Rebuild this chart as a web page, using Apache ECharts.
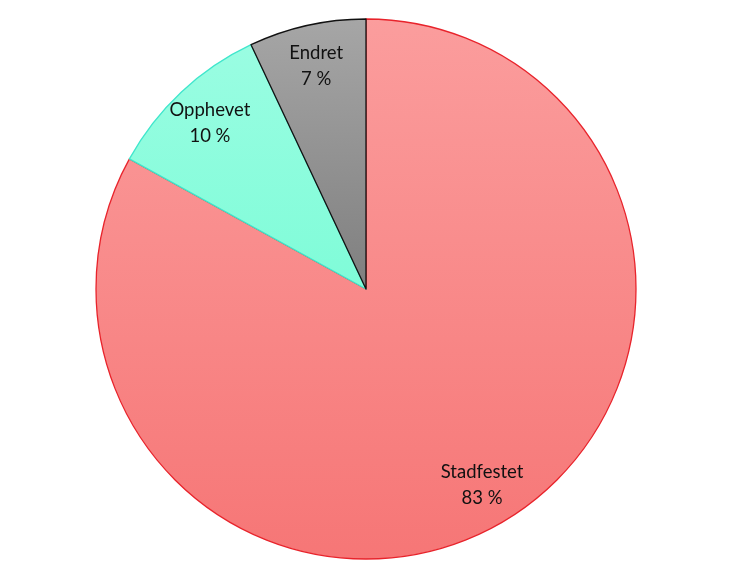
<!DOCTYPE html>
<html>
<head>
<meta charset="utf-8">
<script src="https://cdn.jsdelivr.net/npm/echarts@6/dist/echarts.min.js"></script>
<style>html,body{margin:0;padding:0;background:#fff}#c{width:733px;height:578px}</style>
</head>
<body>
<div id="c"></div>
<script>
const categories = ['Stadfestet', 'Opphevet', 'Endret'];
const values = [83, 10, 7];
const percentLabels = ['83 %', '10 %', '7 %'];

const fills = [
  ['#fb9d9d', '#f67676'],
  ['#9afde2', '#7ffcd8'],
  ['#a6a6a6', '#7f7f7f']
];
const borders = ['#e8232b', '#3fe6cc', '#111111'];

function grad(c) {
  return { type: 'linear', x: 0, y: 0, x2: 0, y2: 1,
    colorStops: [{ offset: 0, color: c[0] }, { offset: 1, color: c[1] }] };
}

const pieData = categories.map((n, i) => ({
  name: n, value: values[i],
  itemStyle: { color: grad(fills[i]), borderColor: borders[i], borderWidth: 1.3 }
}));
const labelData = categories.map((n, i) => ({
  name: n, value: values[i]
}));

const chart = echarts.init(document.getElementById('c'), null, { renderer: 'canvas' });
chart.setOption({
  animation: false,
  series: [
    {
      type: 'pie', center: [366, 289], radius: [0, 270], startAngle: 90, clockwise: true,
      label: { show: false }, labelLine: { show: false }, silent: true,
      data: pieData
    },
    {
      type: 'pie', center: [366, 289], radius: [180, 270], startAngle: 90, clockwise: true,
      silent: true, itemStyle: { color: 'rgba(0,0,0,0)', borderWidth: 0 },
      labelLine: { show: false },
      label: {
        show: true, position: 'inside',
        fontFamily: 'Lato, "Liberation Sans", sans-serif', fontSize: 18.5, lineHeight: 26,
        color: '#111',
        formatter: p => p.name + '\n' + percentLabels[p.dataIndex]
      },
      data: labelData
    }
  ]
});
</script>
</body>
</html>
